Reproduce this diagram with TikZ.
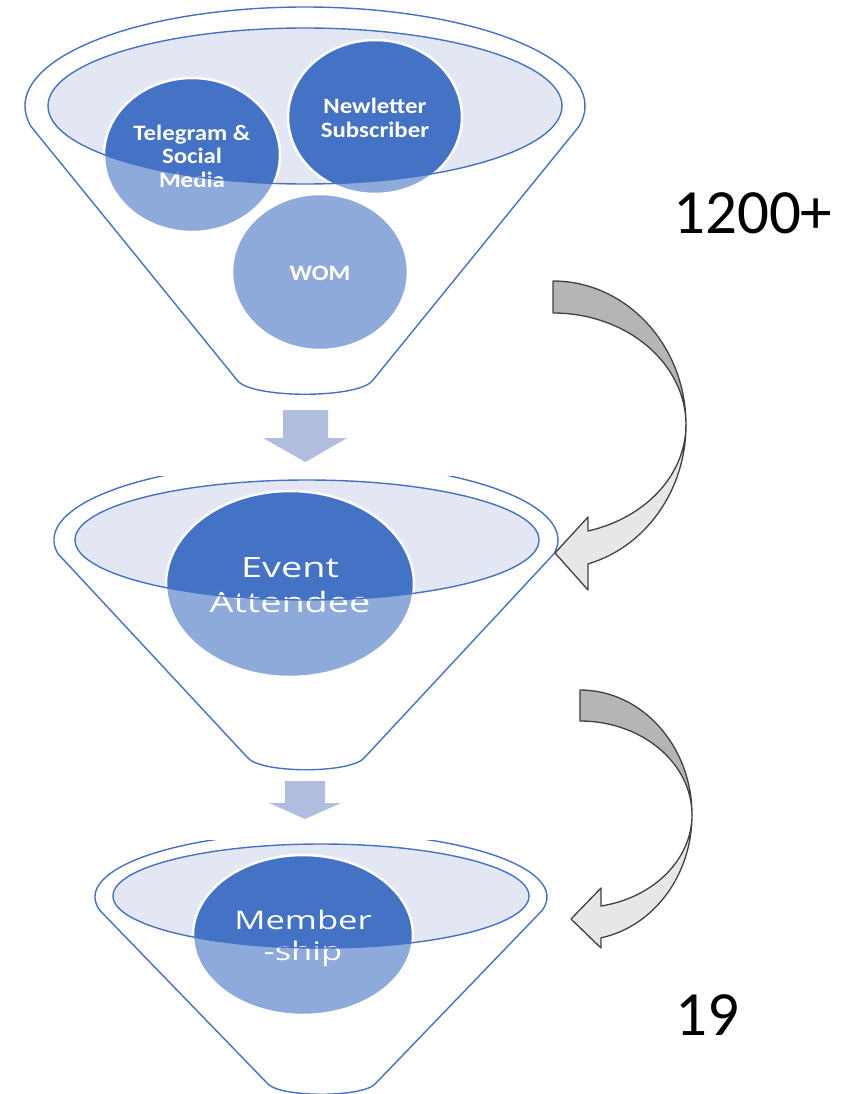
\documentclass[tikz,border=0pt]{standalone}
\usepackage{fontspec}
\usepackage{graphicx}
\usetikzlibrary{shapes.geometric}
\newfontfamily\calibfont{Carlito}
\newfontfamily\opensans{Open Sans}
\definecolor{accent}{HTML}{4472C4}
\definecolor{rimfill}{HTML}{E3E7F3}
\definecolor{flowarrow}{RGB}{176,189,222}
\definecolor{backside}{RGB}{181,181,181}
\definecolor{frontside}{RGB}{231,231,231}
\definecolor{edgegray}{RGB}{64,64,64}
% horizontally widened, centred block of lines, set a little lower
\newcommand{\widelines}[2]{\raisebox{-4pt}[\height][\depth]{\scalebox{#1}[1]{\begin{tabular}{@{}c@{}}#2\end{tabular}}}}

\tikzset{
  rim/.style={draw=accent, line width=1.4pt},
  lip/.style={draw=accent, line width=1.4pt},
  veil/.style={fill=white, fill opacity=0.4, even odd rule},
  bubble/.style={ellipse, fill=accent, draw=white, line width=2.5pt, inner sep=0pt, text=white},
  smallbubble/.style={bubble, font=\calibfont\bfseries\fontsize{22}{23.5}\selectfont},
  eventbubble/.style={bubble, font=\opensans\fontsize{28}{35}\selectfont},
  memberbubble/.style={bubble, font=\opensans\fontsize{25.6}{31}\selectfont},
  flow/.style={fill=flowarrow, draw=none},
  back/.style={fill=backside, draw=edgegray, line width=1.3pt, line join=round},
  front/.style={fill=frontside, draw=edgegray, line width=1.3pt, line join=round},
  count/.style={font=\calibfont\fontsize{63}{63}\selectfont, anchor=base west, inner sep=0pt}
}

\begin{document}
\begin{tikzpicture}[x=1pt,y=-1pt]
\useasboundingbox (0,0) rectangle (861,1094);

% ---------- top funnel ----------
\fill[rimfill] (305,106) ellipse [x radius=257, y radius=78];
\node[smallbubble, minimum width=176pt, minimum height=154pt] (tele) at (192,155) {\widelines{1.13}{Telegram \&\\Social\\Media}};
\node[smallbubble, minimum width=174pt, minimum height=154pt] (news) at (375,117) {\widelines{1.13}{Newletter\\Subscriber}};
\node[smallbubble, minimum width=176pt, minimum height=156pt] (wom) at (320,272) {\widelines{1.13}{WOM}};
\path[veil] (305,106) ++(168:280 and 99) arc[start angle=168, end angle=372, x radius=280, y radius=99]
  -- (373,380) .. controls (360,399) and (250,399) .. (237,380) -- cycle
  (305,106) ellipse [x radius=257, y radius=78];
\draw[rim] (305,106) ++(168:280 and 99) arc[start angle=168, end angle=372, x radius=280, y radius=99]
  -- (373,380) .. controls (360,399) and (250,399) .. (237,380) -- cycle;
\draw[lip] (305,106) ellipse [x radius=257, y radius=78];

% ---------- middle funnel ----------
\fill[rimfill] (307,540) ellipse [x radius=232, y radius=60];
\node[eventbubble, minimum width=248pt, minimum height=186pt] (event) at (290,584) {\widelines{1.35}{Event\\Attendee}};
\path[veil] (306,540) ++(170:252 and 78) arc[start angle=170, end angle=370, x radius=252, y radius=78]
  -- (365,757) .. controls (353,774) and (259,774) .. (247,757) -- cycle
  (307,540) ellipse [x radius=232, y radius=60];
\begin{scope}
  \clip (0,476) rectangle (861,1094);
  \draw[rim] (306,540) ++(170:252 and 78) arc[start angle=170, end angle=370, x radius=252, y radius=78]
    -- (365,757) .. controls (353,774) and (259,774) .. (247,757) -- cycle;
\end{scope}
\draw[lip] (307,540) ellipse [x radius=232, y radius=60];

% ---------- bottom funnel ----------
\fill[rimfill] (321,896) ellipse [x radius=208, y radius=52];
\node[memberbubble, minimum width=220pt, minimum height=160pt] (member) at (303,935) {\widelines{1.35}{Member\\-ship}};
\path[veil] (321,897) ++(168:226 and 65) arc[start angle=168, end angle=372, x radius=226, y radius=65]
  -- (376,1083) .. controls (365,1098) and (278,1098) .. (267,1083) -- cycle
  (321,896) ellipse [x radius=208, y radius=52];
\begin{scope}
  \clip (0,840) rectangle (861,1094);
  \draw[rim] (321,897) ++(168:226 and 65) arc[start angle=168, end angle=372, x radius=226, y radius=65]
    -- (376,1083) .. controls (365,1098) and (278,1098) .. (267,1083) -- cycle;
\end{scope}
\draw[lip] (321,896) ellipse [x radius=208, y radius=52];

% ---------- block arrows between the funnels ----------
\fill[flow] (283,410) -- (328,410) -- (328,438) -- (347,438) -- (305.5,462) -- (263,438) -- (283,438) -- cycle;
\fill[flow] (285,781) -- (325,781) -- (325,803) -- (341,803) -- (305,819) -- (269,803) -- (285,803) -- cycle;

% ---------- curved ribbon arrows ----------
\draw[front] (686,425) arc[start angle=0, end angle=74.7, x radius=133, y radius=144]
  -- (588,590) -- (555,553) -- (588,517) -- (588,531)
  arc[start angle=74.7, end angle=0, x radius=133, y radius=110] -- cycle;
\draw[back] (553,281) arc[start angle=270, end angle=360, x radius=133, y radius=144]
  arc[start angle=0, end angle=-90, x radius=133, y radius=112] -- cycle;

\draw[front] (692,815) arc[start angle=0, end angle=79.2, x radius=112, y radius=125]
  -- (601,948) -- (571,919) -- (601,888) -- (601,906)
  arc[start angle=79.2, end angle=0, x radius=112, y radius=93] -- cycle;
\draw[back] (580,690) arc[start angle=270, end angle=360, x radius=112, y radius=125]
  arc[start angle=0, end angle=-90, x radius=112, y radius=94] -- cycle;

% ---------- counts ----------
\node[count] (total) at (673,233) {1200+};
\node[count] (members) at (675,1035) {19};
\end{tikzpicture}
\end{document}
